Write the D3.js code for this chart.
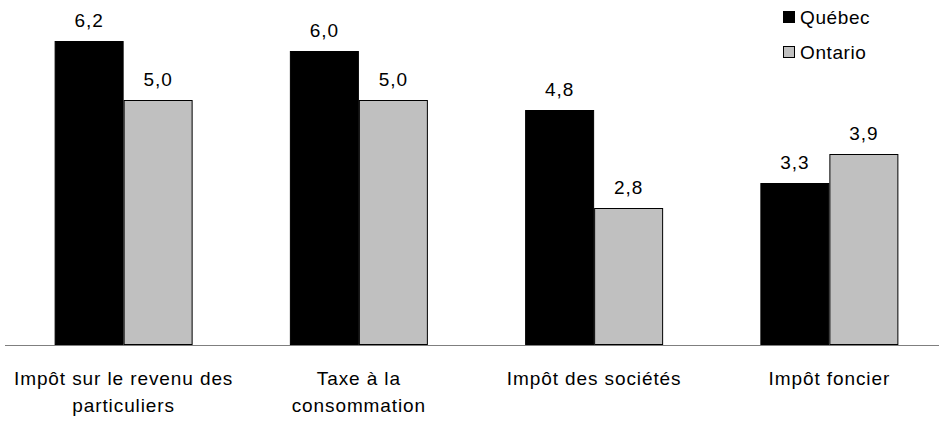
<!DOCTYPE html>
<html>
<head>
<meta charset="utf-8">
<script src="https://cdn.jsdelivr.net/npm/d3@7"></script>
<style>
  html, body { margin: 0; padding: 0; background: #fff; }
  svg { display: block; font-family: "Liberation Sans", Arial, sans-serif; }
</style>
</head>
<body>
<svg id="chart" width="939" height="422"></svg>
<script>
// Categories (each label split into its display lines)
const categories = [
  ["Impôt sur le revenu des", "particuliers"],
  ["Taxe à la", "consommation"],
  ["Impôt des sociétés"],
  ["Impôt foncier"]
];
const series = ["Québec", "Ontario"];
const quebec = [6.2, 6.0, 4.8, 3.3];
const ontario = [5.0, 5.0, 2.8, 3.9];
const colors = ["#000000", "#c0c0c0"];

const fmt = v => d3.format(".1f")(v).replace(".", ",");

const svg = d3.select("#chart");
const W = 939, H = 422;
const baseY = 345;
const fontSize = 19;
const spacing = 0.9;

const catKeys = categories.map((c, i) => i);
const x0 = d3.scaleBand().domain(catKeys).range([6, 947]).padding(0);
const barW = 69;
const x1 = d3.scaleBand().domain(series)
  .range([x0.bandwidth() / 2 - barW, x0.bandwidth() / 2 + barW]).padding(0);
const y = d3.scaleLinear().domain([0, 7]).range([baseY, 2]);

const rows = catKeys.map(i => ({ i, values: [quebec[i], ontario[i]] }));

const groups = svg.selectAll("g.cat").data(rows).join("g")
  .attr("class", "cat")
  .attr("transform", d => `translate(${x0(d.i)},0)`);

groups.selectAll("rect").data(d => d.values.map((v, k) => ({ v, k })))
  .join("rect")
  .attr("x", d => x1(series[d.k]) + 0.5)
  .attr("y", d => Math.round(y(d.v)) + 0.5)
  .attr("width", x1.bandwidth() - 1)
  .attr("height", d => baseY - Math.round(y(d.v)) - 1)
  .attr("fill", d => colors[d.k])
  .attr("stroke", "#000")
  .attr("stroke-width", 1);

groups.selectAll("text.val").data(d => d.values.map((v, k) => ({ v, k })))
  .join("text")
  .attr("class", "val")
  .attr("x", d => x1(series[d.k]) + x1.bandwidth() / 2)
  .attr("y", d => y(d.v) - 14)
  .attr("text-anchor", "middle")
  .attr("font-size", fontSize)
  .attr("letter-spacing", spacing)
  .attr("fill", "#000")
  .text(d => fmt(d.v));

// Baseline axis
svg.append("line")
  .attr("x1", 5).attr("x2", W)
  .attr("y1", baseY + 0.5).attr("y2", baseY + 0.5)
  .attr("stroke", "#7f7f7f").attr("stroke-width", 1);

// Category labels
groups.append("text")
  .attr("x", x0.bandwidth() / 2)
  .attr("y", 385)
  .attr("text-anchor", "middle")
  .attr("font-size", fontSize)
  .attr("letter-spacing", spacing)
  .attr("fill", "#000")
  .selectAll("tspan").data(d => categories[d.i]).join("tspan")
  .attr("x", x0.bandwidth() / 2)
  .attr("dy", (d, j) => j === 0 ? 0 : 27)
  .text(d => d);

// Legend
const legend = svg.append("g").attr("transform", "translate(783,11)");
const li = legend.selectAll("g").data(series).join("g")
  .attr("transform", (d, k) => `translate(0,${k * 35})`);
li.append("rect")
  .attr("x", 0.5).attr("y", 0.5).attr("width", 11).attr("height", 11)
  .attr("fill", (d, k) => colors[k]).attr("stroke", "#000");
li.append("text")
  .attr("x", 17).attr("y", 12.5)
  .attr("font-size", fontSize)
  .attr("letter-spacing", 0.6)
  .attr("fill", "#000")
  .text(d => d);
</script>
</body>
</html>
